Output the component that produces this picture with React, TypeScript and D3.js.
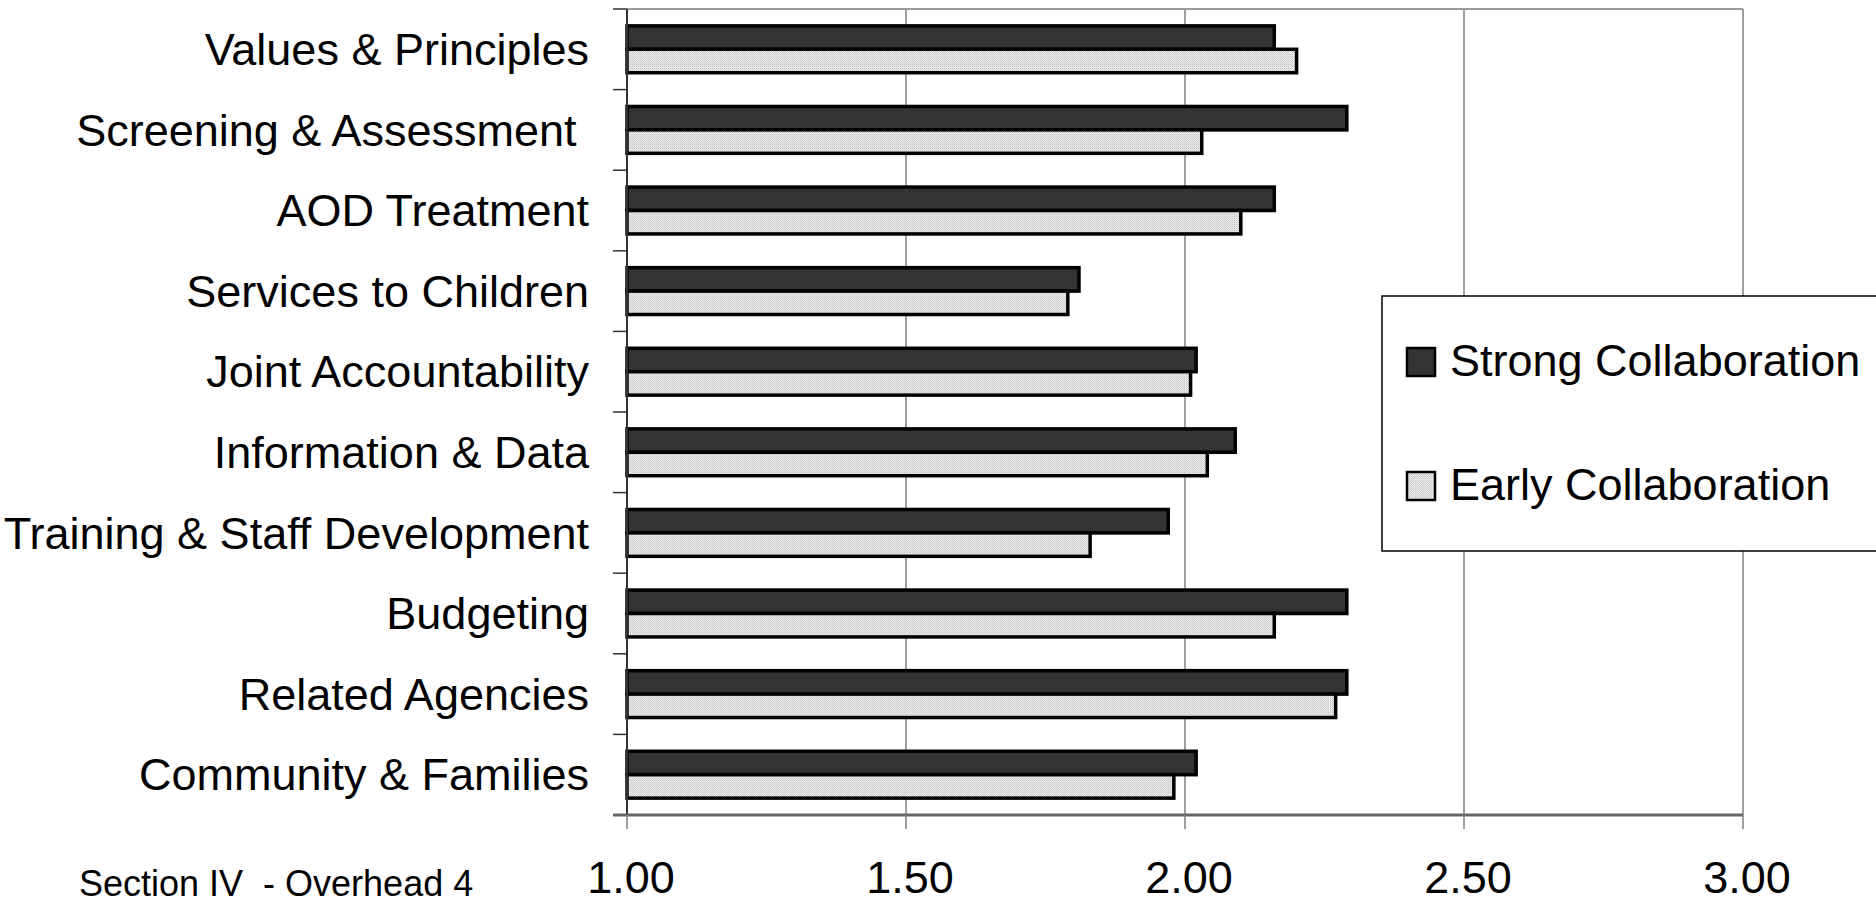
import React from "react";
import * as d3 from "d3";

const categories = [
  "Values & Principles",
  "Screening & Assessment ",
  "AOD Treatment",
  "Services to Children",
  "Joint Accountability",
  "Information & Data",
  "Training & Staff Development",
  "Budgeting",
  "Related Agencies",
  "Community & Families",
];
const strongValues = [2.16, 2.29, 2.16, 1.81, 2.02, 2.09, 1.97, 2.29, 2.29, 2.02];
const earlyValues = [2.2, 2.03, 2.1, 1.79, 2.01, 2.04, 1.83, 2.16, 2.27, 1.98];
const seriesNames = ["Strong Collaboration", "Early Collaboration"];
const xTicks = [1.0, 1.5, 2.0, 2.5, 3.0];
const footnote = "Section IV  - Overhead 4";

const W = 1876;
const H = 904;
const left = 627;
const right = 1743;
const top = 9;
const bottom = 815;
const FONT = "Arial, 'Liberation Sans', Helvetica, sans-serif";

export default function App() {
  const x = d3.scaleLinear().domain([1, 3]).range([left, right]);
  const y = d3.scaleBand<string>().domain(categories).range([top, bottom]).padding(0);
  const inner = d3
    .scaleBand<string>()
    .domain(seriesNames)
    .range([0, y.bandwidth()])
    .paddingInner(0)
    .paddingOuter(0.72);
  const series = [
    { name: seriesNames[0], values: strongValues, fill: "#333333" },
    { name: seriesNames[1], values: earlyValues, fill: "url(#dots)" },
  ];
  const boundaries = categories.map((c) => y(c) as number).concat([bottom]);

  return (
    <div style={{ position: "fixed", left: 0, top: 0, width: W, height: H, background: "#fff" }}>
      <svg width={W} height={H} style={{ display: "block" }} fontFamily={FONT}>
        <defs>
          <pattern id="dots" width="2" height="2" patternUnits="userSpaceOnUse">
            <rect width="2" height="2" fill="#eeeeee" />
            <rect width="1" height="1" fill="#c4c4c4" />
            <rect x="1" y="1" width="1" height="1" fill="#d6d6d6" />
          </pattern>
        </defs>
        <rect width={W} height={H} fill="#fff" />
        {/* gridlines */}
        {xTicks.slice(1).map((t) => (
          <line key={t} x1={x(t)} x2={x(t)} y1={top} y2={bottom} stroke="#808080" strokeWidth={1.5} />
        ))}
        {/* top frame */}
        <line x1={left} x2={right} y1={top} y2={top} stroke="#9a9a9a" strokeWidth={2} />
        {/* bars */}
        {series.map((s) =>
          categories.map((c, i) => {
            const y0 = (y(c) as number) + (inner(s.name) as number);
            return (
              <rect
                key={s.name + c}
                x={x(1)}
                y={y0}
                width={x(s.values[i]) - x(1)}
                height={inner.bandwidth()}
                fill={s.fill}
                stroke="#000"
                strokeWidth={3.5}
              />
            );
          })
        )}
        {/* left axis */}
        <line x1={left} x2={left} y1={top} y2={bottom} stroke="#333" strokeWidth={2} />
        {boundaries.map((b, i) => (
          <line key={i} x1={left - 14} x2={left} y1={b} y2={b} stroke="#333" strokeWidth={1.5} />
        ))}
        {/* bottom axis */}
        <line x1={left - 14} x2={right} y1={bottom} y2={bottom} stroke="#666" strokeWidth={3} />
        {xTicks.map((t) => (
          <line key={t} x1={x(t)} x2={x(t)} y1={bottom} y2={bottom + 14} stroke="#808080" strokeWidth={1.5} />
        ))}
        {/* category labels */}
        {categories.map((c) => (
          <text
            key={c}
            x={589}
            y={(y(c) as number) + y.bandwidth() / 2}
            dy="0.35em"
            textAnchor="end"
            fontSize={45}
            fill="#000"
            style={{ whiteSpace: "pre" }}
          >
            {c}
          </text>
        ))}
        {/* tick labels */}
        {xTicks.map((t) => (
          <text key={t} x={x(t) + 4} y={893} textAnchor="middle" fontSize={45} fill="#000">
            {d3.format(".2f")(t)}
          </text>
        ))}
        {/* footnote */}
        <text x={79} y={896} fontSize={36} fill="#000" style={{ whiteSpace: "pre" }}>
          {footnote}
        </text>
        {/* legend */}
        <rect x={1382} y={296} width={520} height={255} fill="#fff" stroke="#000" strokeWidth={1.5} />
        {series.map((s, i) => (
          <g key={s.name} transform={`translate(1407,${348 + i * 124})`}>
            <rect width={28} height={28} fill={s.fill} stroke="#000" strokeWidth={2.5} />
            <text x={43} y={28} fontSize={45} fill="#000">
              {s.name}
            </text>
          </g>
        ))}
      </svg>
    </div>
  );
}
